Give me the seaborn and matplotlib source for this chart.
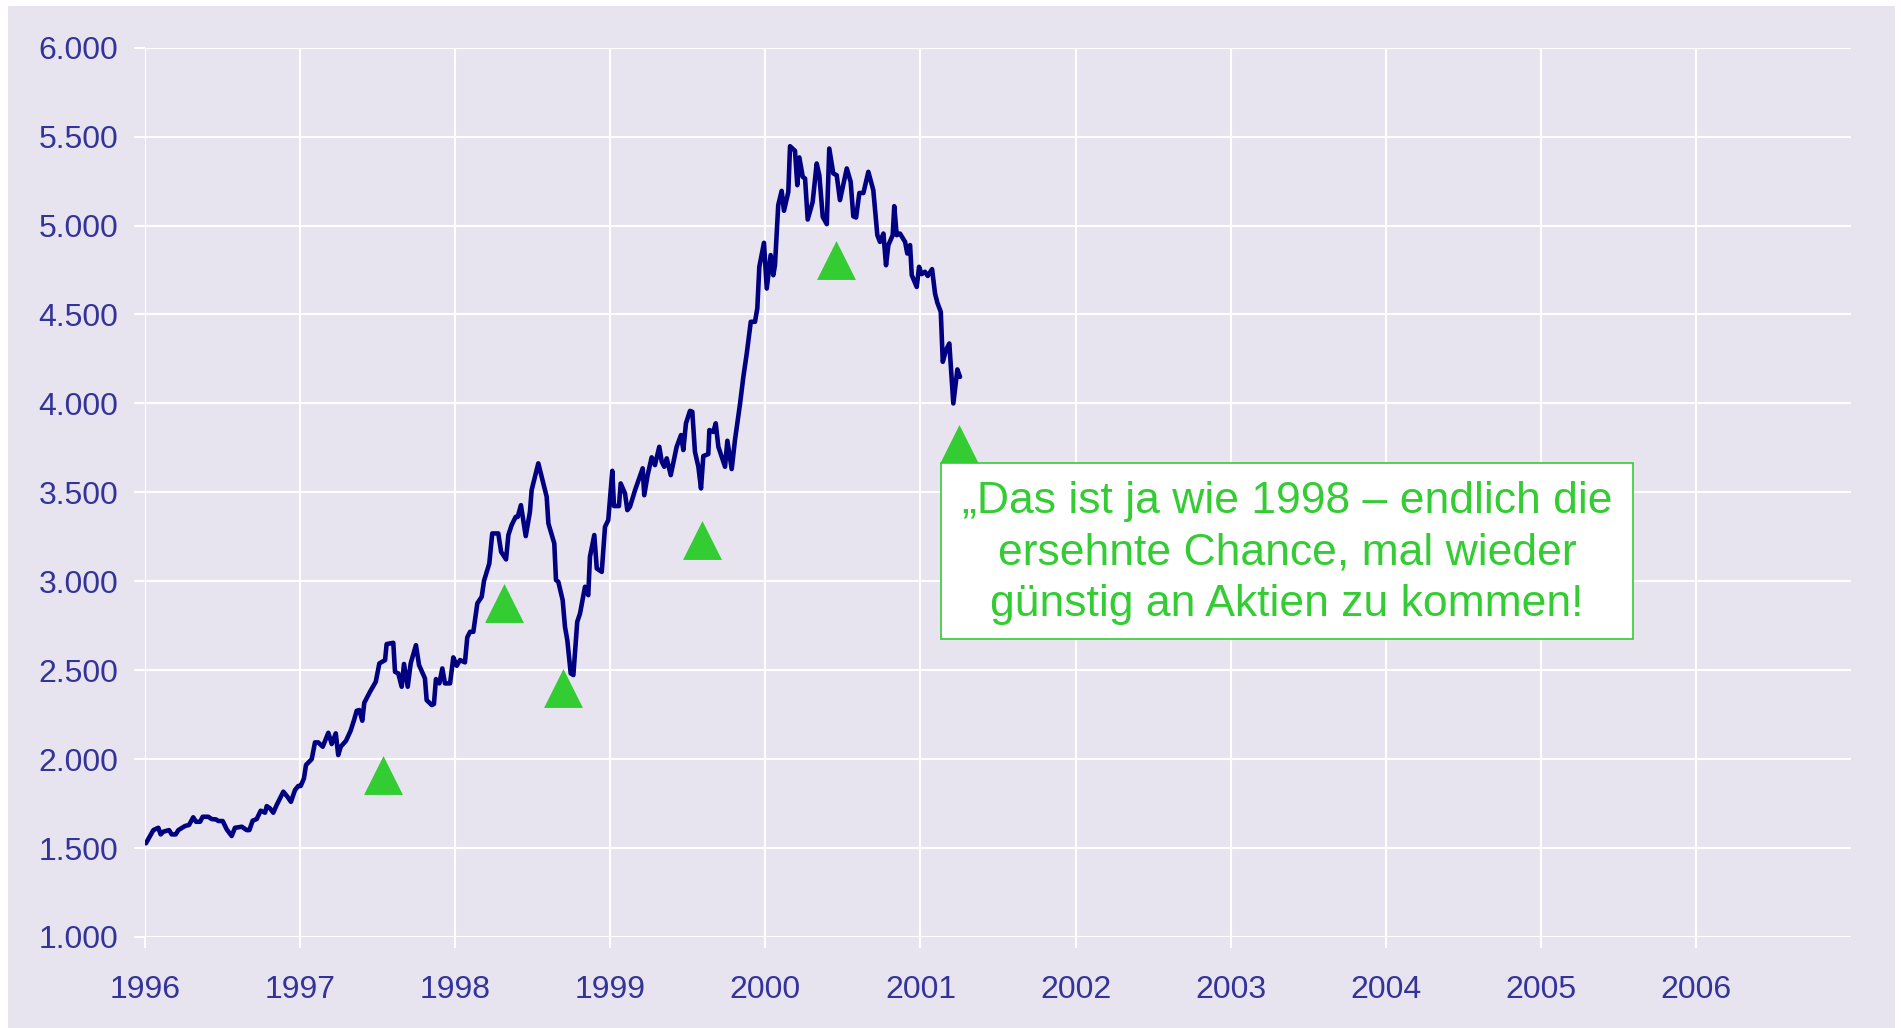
import matplotlib
matplotlib.use("Agg")
import matplotlib.pyplot as plt
import seaborn as sns
import pandas as pd
from matplotlib.patches import Rectangle

# index series (decimal year, level)
t = [1996.006, 1996.054, 1996.086, 1996.101, 1996.118, 1996.155, 1996.172, 1996.198, 1996.215, 1996.258,
     1996.284, 1996.311, 1996.329, 1996.355, 1996.372, 1996.408, 1996.430, 1996.458, 1996.473, 1996.501,
     1996.527, 1996.559, 1996.580, 1996.624, 1996.656, 1996.673, 1996.694, 1996.720, 1996.746, 1996.774,
     1996.785, 1996.806, 1996.827, 1996.849, 1996.892, 1996.918, 1996.941, 1996.967, 1996.988, 1997.004,
     1997.025, 1997.038, 1997.075, 1997.096, 1997.117, 1997.146, 1997.182, 1997.204, 1997.230, 1997.246,
     1997.262, 1997.296, 1997.326, 1997.348, 1997.365, 1997.382, 1997.401, 1997.414, 1997.451, 1997.488,
     1997.511, 1997.548, 1997.558, 1997.601, 1997.612, 1997.633, 1997.655, 1997.670, 1997.694, 1997.713,
     1997.747, 1997.767, 1997.805, 1997.816, 1997.849, 1997.863, 1997.876, 1997.898, 1997.917, 1997.934,
     1997.967, 1997.988, 1998.010, 1998.031, 1998.063, 1998.078, 1998.096, 1998.117, 1998.143, 1998.171,
     1998.186, 1998.220, 1998.239, 1998.278, 1998.296, 1998.328, 1998.343, 1998.364, 1998.390, 1998.403,
     1998.424, 1998.455, 1998.482, 1998.493, 1998.536, 1998.590, 1998.601, 1998.639, 1998.650, 1998.665,
     1998.693, 1998.708, 1998.723, 1998.745, 1998.762, 1998.787, 1998.805, 1998.837, 1998.858, 1998.869,
     1998.897, 1998.913, 1998.945, 1998.966, 1998.987, 1999.013, 1999.024, 1999.056, 1999.067, 1999.095,
     1999.110, 1999.127, 1999.160, 1999.209, 1999.219, 1999.241, 1999.267, 1999.288, 1999.316, 1999.332,
     1999.348, 1999.364, 1999.390, 1999.428, 1999.456, 1999.471, 1999.488, 1999.514, 1999.529, 1999.546,
     1999.568, 1999.585, 1999.600, 1999.632, 1999.639, 1999.664, 1999.680, 1999.697, 1999.740, 1999.755,
     1999.783, 1999.804, 1999.837, 1999.858, 1999.880, 1999.906, 1999.933, 1999.948, 1999.961, 1999.991,
     2000.009, 2000.034, 2000.051, 2000.062, 2000.083, 2000.105, 2000.120, 2000.148, 2000.159, 2000.191,
     2000.206, 2000.219, 2000.241, 2000.256, 2000.273, 2000.305, 2000.331, 2000.348, 2000.370, 2000.396,
     2000.412, 2000.438, 2000.460, 2000.481, 2000.525, 2000.550, 2000.567, 2000.585, 2000.606, 2000.632,
     2000.664, 2000.696, 2000.722, 2000.739, 2000.761, 2000.778, 2000.793, 2000.821, 2000.831, 2000.847,
     2000.868, 2000.901, 2000.915, 2000.933, 2000.944, 2000.976, 2000.991, 2001.008, 2001.029, 2001.047,
     2001.075, 2001.094, 2001.109, 2001.131, 2001.144, 2001.165, 2001.186, 2001.212, 2001.238, 2001.255]
level = [1527, 1601, 1614, 1577, 1592, 1601, 1577, 1577, 1601, 1624,
         1630, 1673, 1648, 1648, 1676, 1676, 1663, 1661, 1652, 1652,
         1605, 1568, 1614, 1620, 1601, 1601, 1654, 1663, 1710, 1699,
         1736, 1723, 1699, 1742, 1817, 1789, 1760, 1826, 1849, 1849,
         1892, 1967, 2000, 2094, 2094, 2070, 2148, 2085, 2145, 2023,
         2070, 2103, 2160, 2220, 2272, 2276, 2216, 2317, 2379, 2435,
         2538, 2557, 2647, 2654, 2491, 2482, 2407, 2535, 2407, 2538,
         2641, 2529, 2454, 2332, 2304, 2310, 2450, 2426, 2510, 2426,
         2426, 2572, 2525, 2557, 2544, 2685, 2716, 2716, 2876, 2913,
         3003, 3100, 3269, 3269, 3166, 3123, 3260, 3316, 3362, 3362,
         3428, 3254, 3391, 3513, 3663, 3475, 3325, 3213, 3007, 2997,
         2894, 2744, 2669, 2482, 2473, 2772, 2819, 2969, 2922, 3138,
         3260, 3072, 3053, 3306, 3344, 3621, 3423, 3423, 3550, 3494,
         3400, 3419, 3513, 3635, 3484, 3597, 3697, 3653, 3756, 3672,
         3644, 3691, 3597, 3756, 3822, 3738, 3888, 3958, 3953, 3728,
         3644, 3522, 3704, 3715, 3850, 3840, 3888, 3756, 3644, 3790,
         3631, 3794, 4000, 4149, 4281, 4459, 4459, 4534, 4768, 4903,
         4646, 4834, 4721, 4777, 5115, 5195, 5083, 5189, 5446, 5420,
         5227, 5383, 5274, 5264, 5034, 5133, 5349, 5283, 5049, 5008,
         5433, 5293, 5283, 5143, 5321, 5246, 5052, 5045, 5183, 5183,
         5302, 5199, 4946, 4908, 4955, 4777, 4890, 4946, 5109, 4946,
         4955, 4908, 4843, 4890, 4721, 4655, 4768, 4727, 4740, 4717,
         4755, 4618, 4566, 4515, 4234, 4300, 4337, 4000, 4191, 4149]

# green "buy" triangles
tri_t = [1997.533, 1998.313, 1998.695, 1999.591, 2000.454, 2001.247]
tri_y = [1911, 2879, 2400, 3230, 4804, 3773]

year_ticks = list(range(1996, 2007))
y_ticks = [1000, 1500, 2000, 2500, 3000, 3500, 4000, 4500, 5000, 5500, 6000]
y_labels = ["1.000", "1.500", "2.000", "2.500", "3.000", "3.500",
            "4.000", "4.500", "5.000", "5.500", "6.000"]
quote = "\u201eDas ist ja wie 1998 \u2013 endlich die\nersehnte Chance, mal wieder\ng\u00fcnstig an Aktien zu kommen!"

bg = "#E7E4F0"
label_col = "#33339A"
green = "#33CC33"

sns.set_style("darkgrid", {"axes.facecolor": bg, "grid.color": "white"})
plt.rcParams["font.family"] = ["Liberation Sans", "DejaVu Sans"]

fig = plt.figure(figsize=(19.01, 10.28), dpi=100, facecolor="white")
fig.patches.append(Rectangle((8 / 1901, 0), (1901 - 14) / 1901, (1028 - 6) / 1028,
                             transform=fig.transFigure, facecolor=bg, edgecolor="none", zorder=-10))
ax = fig.add_axes([145 / 1901, 1 - 937 / 1028, (1851 - 145) / 1901, (937 - 47.7) / 1028])
ax.set_facecolor(bg)

df = pd.DataFrame({"t": t, "level": level})
sns.lineplot(data=df, x="t", y="level", color="#000080", linewidth=3.3, ax=ax, zorder=2)

tri = pd.DataFrame({"t": tri_t, "y": tri_y})
sns.scatterplot(data=tri, x="t", y="y", marker="^", s=784, color=green,
                linewidth=0, ax=ax, zorder=3)

# speech box
ax.add_patch(Rectangle((2001.133, 2675), 4.461, 989, facecolor="white",
                       edgecolor=green, linewidth=1.2, zorder=4))
ax.text(2003.363, 3160, quote, ha="center", va="center", fontsize=32,
        color=green, linespacing=1.33, zorder=5)

ax.set_xlim(1996, 2007)
ax.set_ylim(1000, 6000)
ax.set_xticks(year_ticks)
ax.set_xticklabels([str(y) for y in year_ticks])
ax.set_yticks(y_ticks)
ax.set_yticklabels(y_labels)
ax.set_xlabel("")
ax.set_ylabel("")
ax.grid(True, color="white", linewidth=1.5)
for s in ax.spines.values():
    s.set_visible(False)
ax.tick_params(axis="both", which="major", labelsize=23, labelcolor=label_col,
               color="white", length=8, width=1.5, bottom=True, left=True)
ax.tick_params(axis="x", pad=19)
ax.tick_params(axis="y", pad=11)

fig.savefig("out.png", dpi=100, facecolor="white")
